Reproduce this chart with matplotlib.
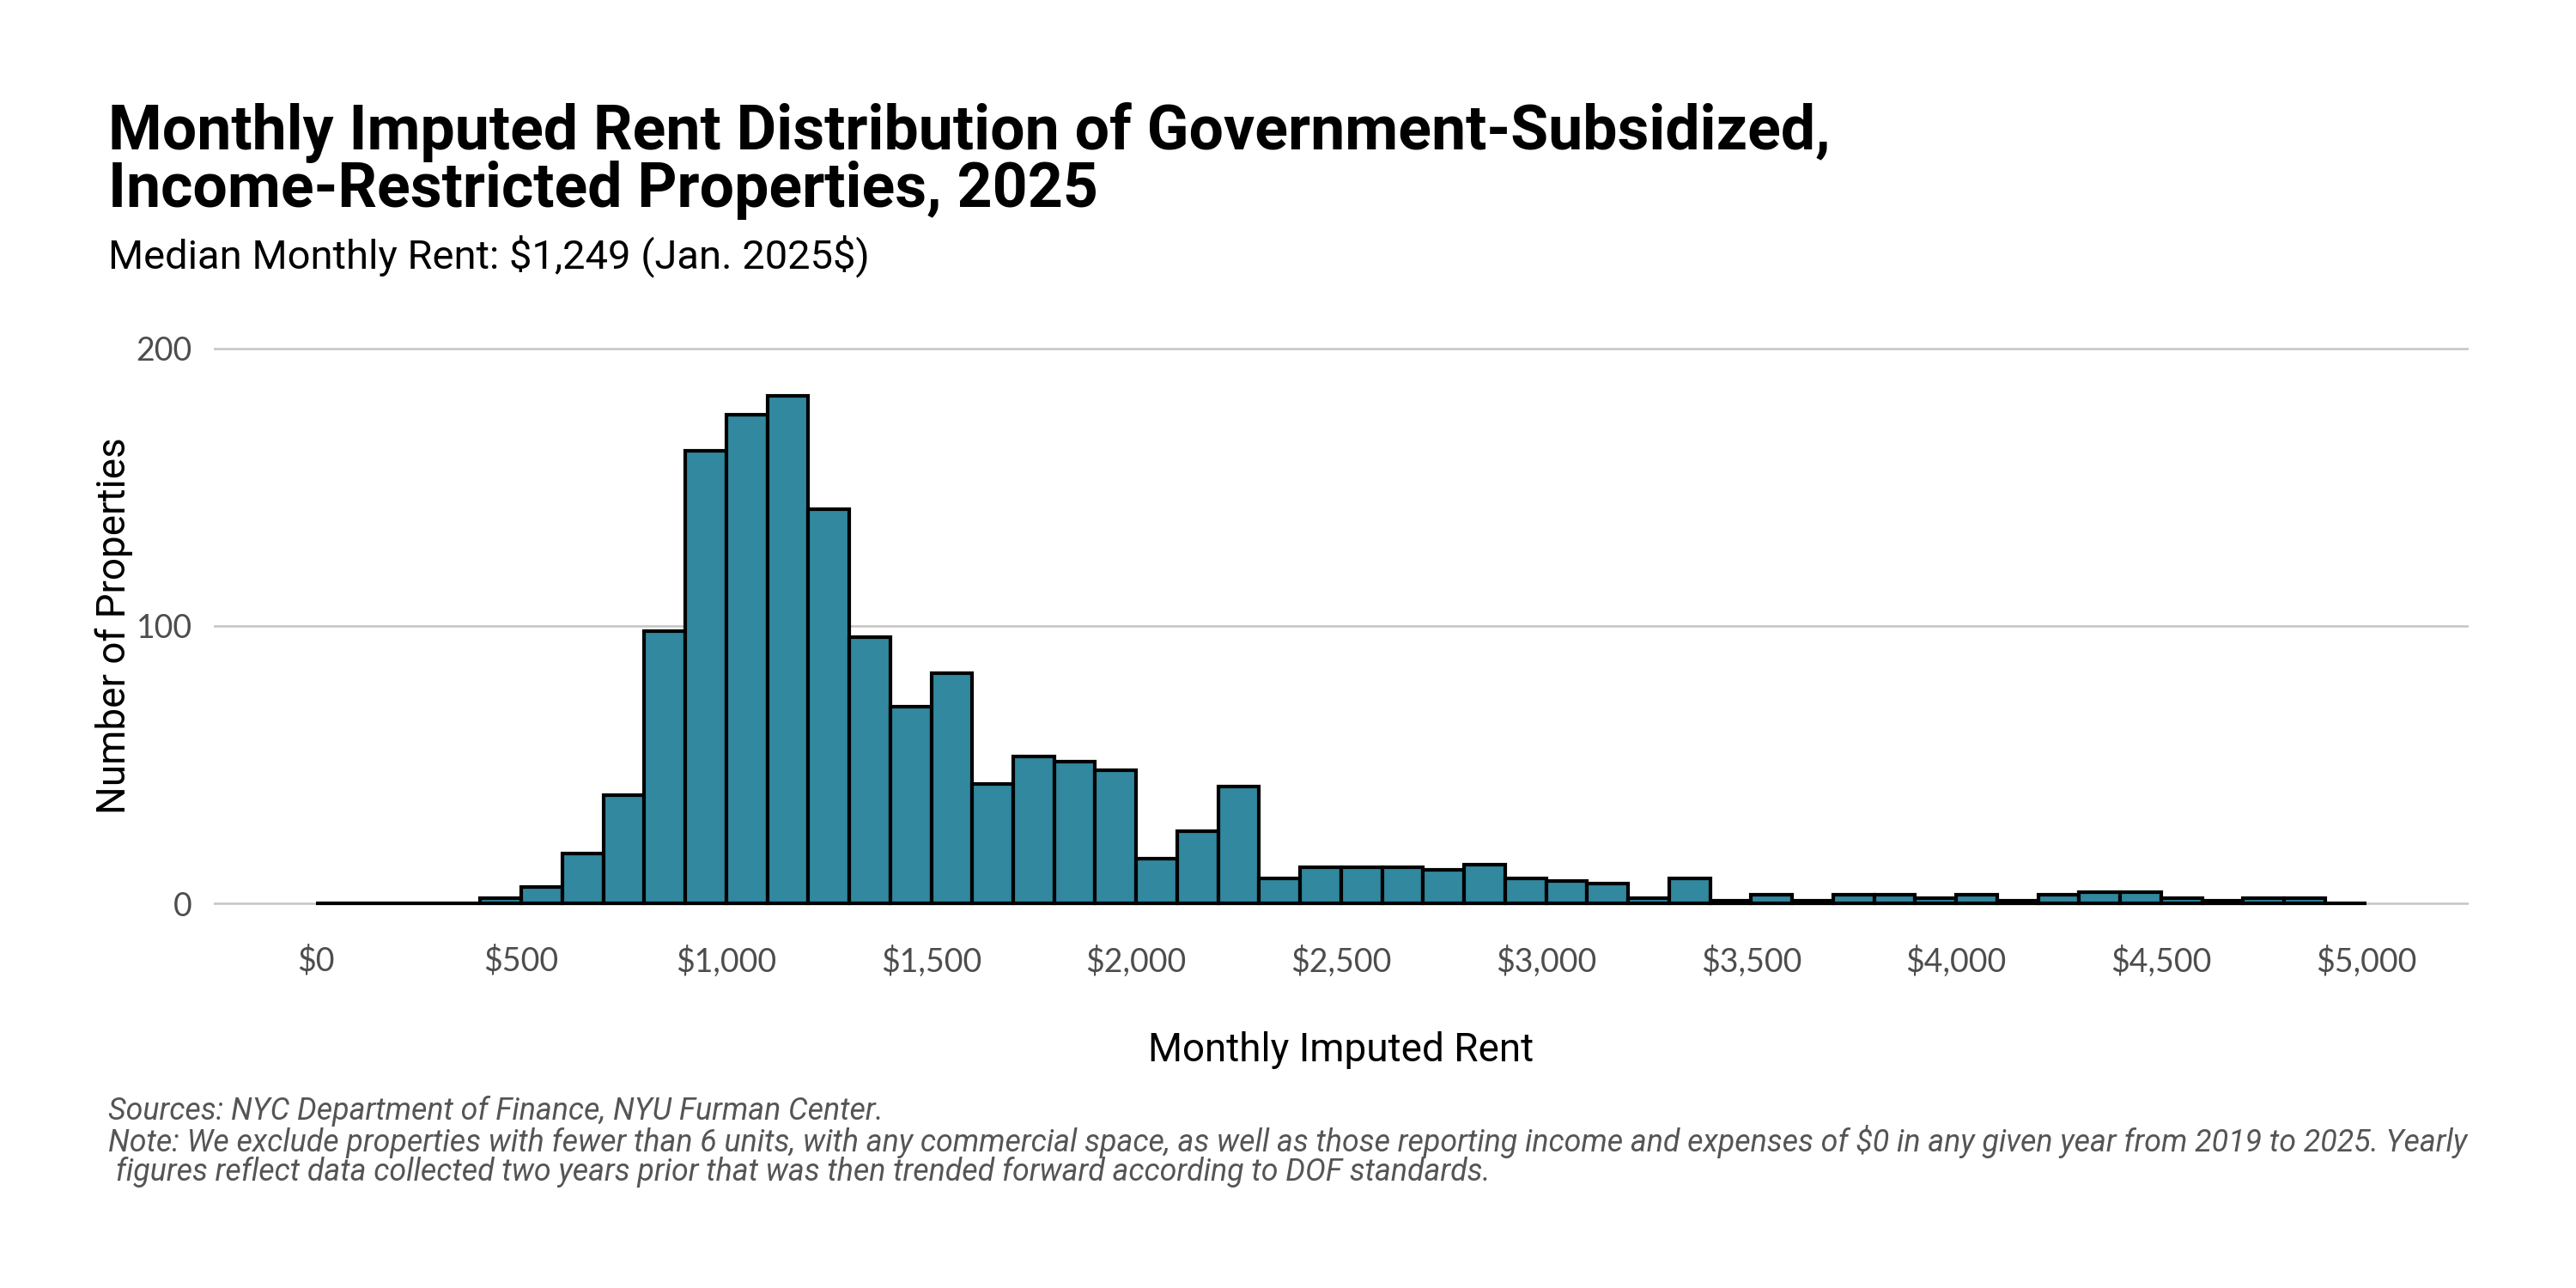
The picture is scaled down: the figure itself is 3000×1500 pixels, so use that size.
import matplotlib
matplotlib.use("Agg")
import matplotlib.pyplot as plt
import numpy as np

# ---- data ----
bin_edges = list(range(0, 5001, 100))
counts = [0, 0, 0, 0, 2, 6, 18, 39, 98, 163,
          176, 183, 142, 96, 71, 83, 43, 53, 51, 48,
          16, 26, 42, 9, 13, 13, 13, 12, 14, 9,
          8, 7, 2, 9, 1, 3, 1, 3, 3, 2,
          3, 1, 3, 4, 4, 2, 1, 2, 2, 0]
x_ticks = [0, 500, 1000, 1500, 2000, 2500, 3000, 3500, 4000, 4500, 5000]
x_tick_labels = ["$0", "$500", "$1,000", "$1,500", "$2,000", "$2,500",
                 "$3,000", "$3,500", "$4,000", "$4,500", "$5,000"]
y_ticks = [0, 100, 200]
y_tick_labels = ["0", "100", "200"]

title = "Monthly Imputed Rent Distribution of Government-Subsidized,\nIncome-Restricted Properties, 2025"
subtitle = "Median Monthly Rent: $1,249 (Jan. 2025$)"
x_label = "Monthly Imputed Rent"
y_label = "Number of Properties"
caption = ("Sources: NYC Department of Finance, NYU Furman Center.\n"
           "Note: We exclude properties with fewer than 6 units, with any commercial space, as well as those reporting income and expenses of $0 in any given year from 2019 to 2025. Yearly\n"
           " figures reflect data collected two years prior that was then trended forward according to DOF standards.")

fig = plt.figure(figsize=(10, 5), dpi=300)
ax = fig.add_axes([0.083, 0.2771, 0.9583 - 0.083, 0.7511 - 0.2771])

lefts = np.array(bin_edges[:-1])
widths = np.diff(bin_edges)
ax.bar(lefts, counts, width=widths, align="edge", color="#31889f",
       edgecolor="black", linewidth=1.0, zorder=3)

ax.set_xlim(-250, 5250)
ax.set_ylim(-10, 210)
ax.set_xticks(x_ticks)
ax.set_xticklabels(x_tick_labels, family="Lato", fontsize=9, color="#4d4d4d")
ax.set_yticks(y_ticks)
ax.set_yticklabels(y_tick_labels, family="Lato", fontsize=9, color="#4d4d4d")
ax.tick_params(length=0, pad=6)
ax.tick_params(axis="x", pad=4)
for s in ax.spines.values():
    s.set_visible(False)
ax.yaxis.grid(True, color="#c4c4c4", linewidth=0.6, zorder=0)
ax.xaxis.grid(False)

ax.set_xlabel(x_label, family="Roboto", fontsize=11, color="black", labelpad=15)
ax.set_ylabel(y_label, family="Roboto", fontsize=11, color="black", labelpad=1)

fig.text(0.042, 0.921, title, family="Roboto", fontweight="bold", fontsize=17.2,
         va="top", ha="left", linespacing=0.95, parse_math=False)
fig.text(0.042, 0.792, subtitle, family="Roboto", fontsize=11.3, va="baseline",
         ha="left", parse_math=False)
fig.text(0.042, 0.149, caption, family="Roboto", style="italic", fontsize=8.6,
         color="#555555", va="top", ha="left", linespacing=0.92, parse_math=False)

fig.savefig("out.png", dpi=300, facecolor="white")
